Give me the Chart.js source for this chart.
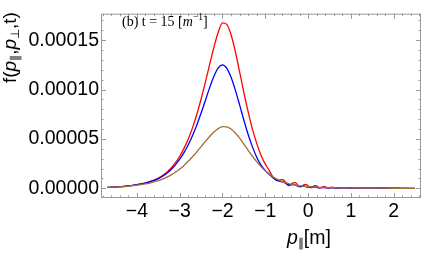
<!DOCTYPE html>
<html>
<head>
<meta charset="utf-8">
<script src="https://cdn.jsdelivr.net/npm/chart.js@4.4.1/dist/chart.umd.min.js"></script>
<style>
  html, body { margin: 0; padding: 0; background: #fff; }
  #wrap { width: 422px; height: 253px; }
</style>
</head>
<body>
<div id="wrap"><canvas id="chart" width="422" height="253"></canvas></div>
<script>
// p_par positions (m), y values in units of 1e-5
const pPar = [
  -4.7, -4.6, -4.5, -4.4, -4.3, -4.2, -4.1, -4.0, -3.9, -3.8,
  -3.7, -3.6, -3.5, -3.4, -3.3, -3.2, -3.1, -3.0, -2.9, -2.8,
  -2.7, -2.6, -2.5, -2.4, -2.3, -2.2, -2.1, -2.0, -1.9, -1.8,
  -1.7, -1.6, -1.5, -1.4, -1.3, -1.2, -1.1, -1.0,
  -0.95, -0.9, -0.85, -0.8, -0.75, -0.7, -0.65, -0.6, -0.55, -0.5,
  -0.45, -0.4, -0.35, -0.3, -0.25, -0.2, -0.15, -0.1, -0.05, 0.0,
  0.05, 0.1, 0.15, 0.2, 0.25, 0.3, 0.35, 0.4, 0.45, 0.5,
  0.55, 0.6, 0.65, 0.7, 0.75, 0.8,
  0.9, 1.0, 1.1, 1.2, 1.3, 1.4, 1.5, 1.6, 1.7, 1.8,
  1.9, 2.0, 2.1, 2.2, 2.3, 2.4, 2.5
];

const redVals = [
  0.10, 0.12, 0.14, 0.17, 0.21, 0.26, 0.31, 0.38, 0.46, 0.56,
  0.68, 0.84, 1.04, 1.30, 1.64, 2.06, 2.60, 3.25, 4.05, 5.00,
  6.15, 7.50, 9.05, 10.75, 12.55, 14.30, 15.80, 16.75, 16.60, 15.55,
  13.85, 11.80, 9.70, 7.75, 6.00, 4.55, 3.35, 2.45,
  2.10, 1.75, 1.35, 1.05, 0.85, 0.80, 0.85, 0.90, 0.75, 0.45,
  0.28, 0.35, 0.55, 0.58, 0.38, 0.15, 0.18, 0.35, 0.40, 0.25,
  0.08, 0.10, 0.28, 0.25, 0.08, 0.05, 0.18, 0.17, 0.05, 0.04,
  0.12, 0.10, 0.03, 0.04, 0.06, 0.05,
  0.04, 0.035, 0.03, 0.027, 0.024, 0.021, 0.019, 0.017, 0.015, 0.013,
  0.012, 0.011, 0.010, 0.009, 0.008, 0.008, 0.007
];

const blueVals = [
  0.10, 0.12, 0.14, 0.17, 0.21, 0.26, 0.31, 0.37, 0.45, 0.54,
  0.66, 0.80, 0.99, 1.23, 1.53, 1.91, 2.38, 2.95, 3.62, 4.42,
  5.35, 6.42, 7.62, 8.90, 10.20, 11.35, 12.20, 12.50, 12.15, 11.25,
  9.95, 8.45, 6.90, 5.45, 4.20, 3.15, 2.35, 1.80,
  1.58, 1.38, 1.18, 1.00, 0.86, 0.76, 0.70, 0.66, 0.58, 0.46,
  0.38, 0.38, 0.40, 0.34, 0.25, 0.20, 0.22, 0.24, 0.18, 0.12,
  0.11, 0.14, 0.14, 0.09, 0.06, 0.07, 0.09, 0.07, 0.04, 0.04,
  0.06, 0.05, 0.03, 0.03, 0.04, 0.04,
  0.04, 0.035, 0.03, 0.027, 0.024, 0.021, 0.019, 0.017, 0.015, 0.013,
  0.012, 0.011, 0.010, 0.009, 0.008, 0.008, 0.007
];

const brownVals = [
  0.10, 0.12, 0.14, 0.16, 0.19, 0.23, 0.27, 0.32, 0.38, 0.45,
  0.54, 0.65, 0.78, 0.94, 1.13, 1.36, 1.63, 1.95, 2.32, 2.74,
  3.20, 3.70, 4.22, 4.75, 5.25, 5.70, 6.05, 6.25, 6.22, 6.00,
  5.60, 5.08, 4.48, 3.85, 3.25, 2.70, 2.20, 1.78,
  1.60, 1.42, 1.26, 1.11, 0.98, 0.87, 0.77, 0.68, 0.60, 0.53,
  0.47, 0.42, 0.37, 0.33, 0.29, 0.26, 0.23, 0.21, 0.19, 0.17,
  0.15, 0.14, 0.13, 0.12, 0.11, 0.10, 0.09, 0.085, 0.08, 0.075,
  0.07, 0.065, 0.06, 0.055, 0.05, 0.048,
  0.045, 0.04, 0.035, 0.031, 0.028, 0.025, 0.022, 0.02, 0.018, 0.016,
  0.014, 0.013, 0.012, 0.011, 0.01, 0.009, 0.008
];

const xTicks = [-4, -3, -2, -1, 0, 1, 2];
const yTicks = [0, 5, 10, 15];
const yTickLabels = ['0.00000', '0.00005', '0.00010', '0.00015'];

const frameColor = '#999999';
const sans = '"Liberation Sans", Arial, sans-serif';
const serif = '"Liberation Serif", "Times New Roman", serif';

function pts(vals) {
  return pPar.map((p, i) => ({ x: p, y: vals[i] }));
}

const framePlugin = {
  id: 'frame',
  afterDatasetsDraw(chart) {
    const { ctx, chartArea: a, scales: { x, y } } = chart;
    ctx.save();
    ctx.strokeStyle = frameColor;
    ctx.lineWidth = 1;
    ctx.strokeRect(a.left + 0.5, a.top + 0.5, a.right - a.left - 1, a.bottom - a.top - 1);

    const line = (x0, y0, x1, y1) => {
      ctx.beginPath(); ctx.moveTo(x0, y0); ctx.lineTo(x1, y1); ctx.stroke();
    };
    // x ticks (inward, top and bottom)
    for (let i = Math.ceil(x.min * 5); i <= Math.floor(x.max * 5); i++) {
      const px = Math.round(x.getPixelForValue(i / 5)) + 0.5;
      const len = i % 5 === 0 ? 5 : 2.5;
      line(px, a.bottom, px, a.bottom - len);
      line(px, a.top, px, a.top + len);
    }
    // y ticks (inward, left and right)
    for (let i = Math.ceil(y.min); i <= Math.floor(y.max); i++) {
      const py = Math.round(y.getPixelForValue(i)) + 0.5;
      const len = i % 5 === 0 ? 5 : 2.5;
      line(a.left, py, a.left + len, py);
      line(a.right, py, a.right - len, py);
    }
    ctx.restore();
  },
  afterDraw(chart) {
    const { ctx } = chart;
    ctx.save();
    ctx.fillStyle = '#000';
    ctx.textBaseline = 'alphabetic';

    let cx = 0;
    const seg = (txt, font, dy) => {
      ctx.font = font;
      ctx.fillText(txt, cx, dy);
      cx += ctx.measureText(txt).width;
    };

    // y axis title, rotated
    ctx.save();
    ctx.translate(16, 83);
    ctx.rotate(-Math.PI / 2);
    cx = 0;
    seg('f(', '19px ' + sans, 0);
    seg('p', 'italic 19px ' + sans, 0);
    seg('\u2225', '12px ' + sans, 3);
    seg(',', '19px ' + sans, 0);
    seg('p', 'italic 19px ' + sans, 0);
    seg('\u22A5', '12px ' + sans, 3);
    seg(',', '19px ' + sans, 0);
    seg('t)', '19px ' + sans, 0);
    ctx.restore();

    // x axis title
    ctx.save();
    ctx.translate(287, 244);
    cx = 0;
    seg('p', 'italic 19.5px ' + sans, 0);
    seg('\u2225', '12px ' + sans, 3);
    seg('[m]', '19.5px ' + sans, 0);
    ctx.restore();

    // annotation
    ctx.save();
    ctx.translate(122, 26);
    cx = 0;
    seg('(b) t = 15 [', '14px ' + serif, 0);
    seg('m', 'italic 14px ' + serif, 0);
    seg('\u22121', '9.5px ' + serif, -6);
    seg(']', '14px ' + serif, 0);
    ctx.restore();

    ctx.restore();
  }
};

const lineStyle = {
  borderWidth: 1.3,
  pointRadius: 0,
  fill: false,
  cubicInterpolationMode: 'monotone'
};

new Chart(document.getElementById('chart').getContext('2d'), {
  type: 'line',
  data: {
    datasets: [
      Object.assign({ label: 'brown', data: pts(brownVals), borderColor: 'rgb(160,110,55)' }, lineStyle),
      Object.assign({ label: 'blue', data: pts(blueVals), borderColor: 'rgb(0,0,255)' }, lineStyle),
      Object.assign({ label: 'red', data: pts(redVals), borderColor: 'rgb(255,0,0)' }, lineStyle)
    ]
  },
  options: {
    responsive: false,
    animation: false,
    layout: { padding: { top: 1, right: 1, left: 0, bottom: 0 } },
    plugins: { legend: { display: false }, tooltip: { enabled: false } },
    scales: {
      x: {
        type: 'linear',
        min: -4.84,
        max: 2.64,
        afterBuildTicks: s => { s.ticks = xTicks.map(v => ({ value: v })); },
        afterFit: s => { s.height = 55; },
        grid: { display: false, drawTicks: false },
        border: { display: false },
        ticks: {
          padding: 2,
          color: '#000',
          font: { family: sans, size: 19.5 },
          callback: v => (v < 0 ? '\u2212' + Math.abs(v) : String(v))
        }
      },
      y: {
        type: 'linear',
        min: -0.975,
        max: 17.68,
        afterBuildTicks: s => { s.ticks = yTicks.map(v => ({ value: v })); },
        afterFit: s => { s.width = 101; },
        grid: { display: false, drawTicks: false },
        border: { display: false },
        ticks: {
          padding: 2,
          color: '#000',
          font: { family: sans, size: 19.5 },
          callback: v => yTickLabels[yTicks.indexOf(v)]
        }
      }
    }
  },
  plugins: [framePlugin]
});
</script>
</body>
</html>
